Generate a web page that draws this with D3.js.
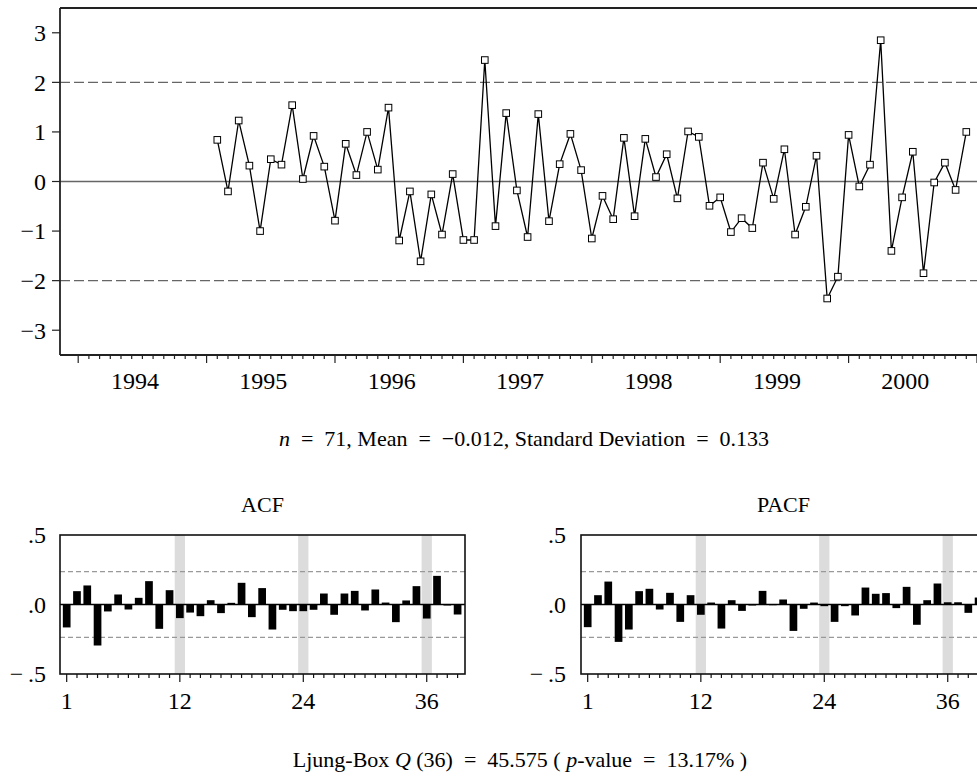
<!DOCTYPE html>
<html>
<head>
<meta charset="utf-8">
<script src="https://cdn.jsdelivr.net/npm/d3@7/dist/d3.min.js"></script>
<style>
  html, body { margin: 0; padding: 0; background: #fff; }
  svg { display: block; }
  text { font-family: "Liberation Serif", "Times New Roman", "DejaVu Serif", serif; fill: #000; }
</style>
</head>
<body>
<svg id="chart" width="977" height="776"></svg>
<script>
// ---------------- DATA ----------------
const firstYear = 1995, firstMonth = 2; // Feb 1995
const residuals = [
  0.84, -0.20, 1.23, 0.32, -1.00, 0.45, 0.34, 1.54, 0.05, 0.92, 0.30,
  -0.79, 0.76, 0.13, 1.00, 0.24, 1.49, -1.19, -0.20, -1.61, -0.26, -1.07,
  0.15, -1.18, -1.18, 2.45, -0.90, 1.38, -0.18, -1.12, 1.36, -0.80, 0.35,
  0.96, 0.23, -1.15, -0.29, -0.76, 0.88, -0.70, 0.86, 0.09, 0.55, -0.34,
  1.01, 0.90, -0.49, -0.32, -1.02, -0.74, -0.94, 0.38, -0.35, 0.65, -1.07,
  -0.51, 0.52, -2.36, -1.92, 0.94, -0.10, 0.34, 2.85, -1.40, -0.32, 0.60,
  -1.85, -0.02, 0.38, -0.17, 1.00
];
const yearLabels = ["1994", "1995", "1996", "1997", "1998", "1999", "2000"];
const yTicksTop = [-3, -2, -1, 0, 1, 2, 3];
const refLines = [2, -2];

const lags = d3.range(1, 40);
const acfValues = [
  -0.165, 0.096, 0.137, -0.295, -0.050, 0.072, -0.036, 0.048, 0.168, -0.175,
  0.103, -0.098, -0.058, -0.084, 0.031, -0.062, 0.012, 0.156, -0.091, 0.118,
  -0.180, -0.038, -0.048, -0.048, -0.038, 0.079, -0.074, 0.079, 0.098, -0.043,
  0.108, 0.014, -0.127, 0.029, 0.132, -0.101, 0.206, -0.006, -0.072
];
const pacfValues = [
  -0.163, 0.067, 0.165, -0.269, -0.180, 0.096, 0.113, -0.036, 0.084, -0.125,
  0.067, -0.074, 0.014, -0.173, 0.031, -0.046, -0.004, 0.098, 0.002, 0.036,
  -0.190, -0.031, 0.014, -0.012, -0.125, -0.012, -0.079, 0.122, 0.077, 0.082,
  -0.026, 0.127, -0.146, 0.031, 0.151, 0.016, 0.016, -0.060, 0.050
];
const confLimit = 0.237;
const seasonalLags = [12, 24, 36];
const lagLabels = [1, 12, 24, 36];
const corrTicks = [0.5, 0, -0.5];
const corrTickLabels = [".5", ".0", "\u2212\u2009.5"];

// ---------------- DRAW ----------------
const svg = d3.select("#chart");
const monthIndex = (yr, m) => (yr - 1994) * 12 + (m - 1);
const points = residuals.map((v, i) => {
  const d = d3.timeMonth.offset(new Date(firstYear, firstMonth - 1, 1), i);
  return { m: monthIndex(d.getFullYear(), d.getMonth() + 1), v };
});
const EQ = "\u2002=\u2002";

// Top chart
const topL = 60, topR = 977, topT = 8, topB = 355;
const x = d3.scaleLinear().domain([-1.7, 84]).range([topL, topR]);
const y = d3.scaleLinear().domain([-3.5, 3.5]).range([topB, topT]);

const gTop = svg.append("g");
gTop.selectAll(".ref").data(refLines).enter().append("line")
  .attr("x1", topL).attr("x2", topR)
  .attr("y1", d => y(d)).attr("y2", d => y(d))
  .attr("stroke", "#666").attr("stroke-width", 1.3).attr("stroke-dasharray", "10,4");
gTop.append("line").attr("x1", topL).attr("x2", topR).attr("y1", y(0)).attr("y2", y(0))
  .attr("stroke", "#666").attr("stroke-width", 1.3);
gTop.append("line").attr("x1", topL).attr("x2", topR).attr("y1", topT).attr("y2", topT)
  .attr("stroke", "#222").attr("stroke-width", 1.8);
gTop.append("line").attr("x1", topL).attr("x2", topL).attr("y1", topT).attr("y2", topB)
  .attr("stroke", "#222").attr("stroke-width", 1.8);
gTop.append("line").attr("x1", topL).attr("x2", topR).attr("y1", topB).attr("y2", topB)
  .attr("stroke", "#222").attr("stroke-width", 1.8);

gTop.selectAll(".yt").data(yTicksTop).enter().append("line")
  .attr("x1", topL - 8).attr("x2", topL).attr("y1", d => y(d)).attr("y2", d => y(d))
  .attr("stroke", "#222").attr("stroke-width", 1.2);
gTop.selectAll(".yl").data(yTicksTop).enter().append("text")
  .attr("x", topL - 14).attr("y", d => y(d)).attr("dy", "0.35em")
  .attr("text-anchor", "end").attr("font-size", 24)
  .text(d => d < 0 ? "\u2212" + Math.abs(d) : String(d));

const monthTicks = d3.range(0, 85);
gTop.selectAll(".xt").data(monthTicks).enter().append("line")
  .attr("x1", d => x(d)).attr("x2", d => x(d))
  .attr("y1", topB).attr("y2", d => d % 12 === 0 ? topB + 8 : topB + 4)
  .attr("stroke", "#222").attr("stroke-width", 1.2);
gTop.selectAll(".xl").data(yearLabels).enter().append("text")
  .attr("x", (d, i) => x(i * 12 + 5.3)).attr("y", 389)
  .attr("text-anchor", "middle").attr("font-size", 24)
  .text(d => d);

gTop.append("path").datum(points)
  .attr("d", d3.line().x(d => x(d.m)).y(d => y(d.v)))
  .attr("fill", "none").attr("stroke", "#000").attr("stroke-width", 1.3);
gTop.selectAll(".pt").data(points).enter().append("rect")
  .attr("x", d => x(d.m) - 3.3).attr("y", d => y(d.v) - 3.3)
  .attr("width", 6.6).attr("height", 6.6)
  .attr("fill", "#fff").attr("stroke", "#000").attr("stroke-width", 1);

const stats = svg.append("text").attr("x", 524).attr("y", 446)
  .attr("text-anchor", "middle").attr("font-size", 22);
stats.append("tspan").attr("font-style", "italic").text("n");
stats.append("tspan").text(EQ + "71, Mean" + EQ + "\u22120.012, Standard Deviation" + EQ + "0.133");

function panel(left, values, title, labelRight) {
  const pT = 535, pB = 674, pW = 405;
  const xs = d3.scaleLinear().domain([0.35, 39.72]).range([left, left + pW]);
  const ys = d3.scaleLinear().domain([-0.5, 0.5]).range([pB, pT]);
  const g = svg.append("g");
  const step = xs(2) - xs(1);
  g.selectAll(".band").data(seasonalLags).enter().append("rect")
    .attr("x", d => xs(d) - step / 2).attr("y", pT)
    .attr("width", step).attr("height", pB - pT)
    .attr("fill", "#dcdcdc");
  g.selectAll(".conf").data([confLimit, -confLimit]).enter().append("line")
    .attr("x1", left).attr("x2", left + pW)
    .attr("y1", d => ys(d)).attr("y2", d => ys(d))
    .attr("stroke", "#999").attr("stroke-width", 1.2).attr("stroke-dasharray", "5,3");
  g.selectAll(".bar").data(values).enter().append("rect")
    .attr("x", (d, i) => xs(lags[i]) - 3.85)
    .attr("y", d => ys(Math.max(0, d)))
    .attr("width", 7.7)
    .attr("height", d => Math.max(1, Math.abs(ys(d) - ys(0))))
    .attr("fill", "#000");
  g.append("line").attr("x1", left).attr("x2", left + pW).attr("y1", ys(0)).attr("y2", ys(0))
    .attr("stroke", "#000").attr("stroke-width", 1.5);
  g.append("rect").attr("x", left).attr("y", pT).attr("width", pW).attr("height", pB - pT)
    .attr("fill", "none").attr("stroke", "#111").attr("stroke-width", 1.6);
  g.selectAll(".lt").data(lags).enter().append("line")
    .attr("x1", d => xs(d)).attr("x2", d => xs(d))
    .attr("y1", pB).attr("y2", d => lagLabels.includes(d) ? pB + 8 : pB + 4)
    .attr("stroke", "#111").attr("stroke-width", 1.2);
  g.selectAll(".ll").data(lagLabels).enter().append("text")
    .attr("x", d => xs(d)).attr("y", 709)
    .attr("text-anchor", "middle").attr("font-size", 24).text(d => d);
  g.selectAll(".yl").data(corrTicks).enter().append("text")
    .attr("x", labelRight).attr("y", d => ys(d)).attr("dy", "0.35em")
    .attr("text-anchor", "end").attr("font-size", 24)
    .text((d, i) => corrTickLabels[i]);
  g.append("text").attr("x", left + pW / 2).attr("y", 512)
    .attr("text-anchor", "middle").attr("font-size", 22).text(title);
}
panel(60, acfValues, "ACF", 46);
panel(581, pacfValues, "PACF", 566);

const lb = svg.append("text").attr("x", 520).attr("y", 767)
  .attr("text-anchor", "middle").attr("font-size", 22);
lb.append("tspan").text("Ljung-Box ");
lb.append("tspan").attr("font-style", "italic").text("Q");
lb.append("tspan").text(" (36)" + EQ + "45.575 ( ");
lb.append("tspan").attr("font-style", "italic").text("p");
lb.append("tspan").text("-value" + EQ + "13.17% )");
</script>
</body>
</html>
